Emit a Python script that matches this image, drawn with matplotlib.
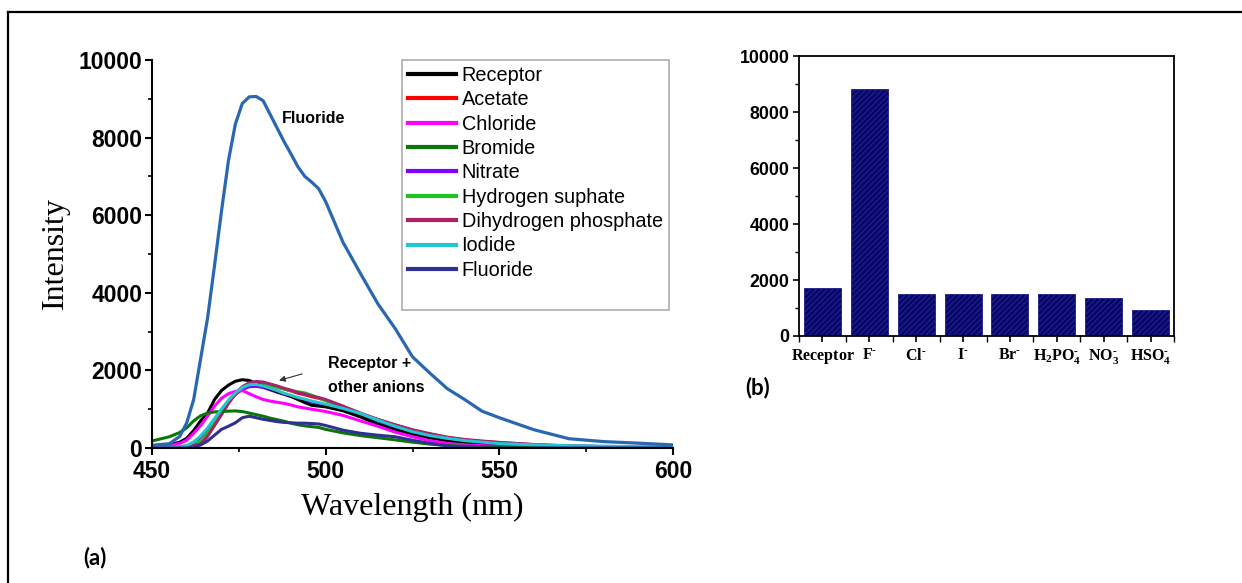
"""Fluorescence spectra of the receptor with anions (a) and peak intensity bars (b)."""
import matplotlib
matplotlib.use('Agg')
import matplotlib.pyplot as plt
from matplotlib.lines import Line2D
from matplotlib.ticker import MultipleLocator

# Times-like bold labels with real sub/superscripts
plt.rcParams['mathtext.fontset'] = 'custom'
plt.rcParams['mathtext.rm'] = 'Liberation Serif'
plt.rcParams['mathtext.bf'] = 'Liberation Serif:bold'

# ---- panel (a): emission spectra ----
wavelength = [450, 455, 458, 460, 462, 464, 466, 468, 470, 472, 474, 476, 478, 480,
              482, 484, 486, 488, 490, 492, 494, 496, 498, 500, 505, 510, 515, 520,
              525, 530, 535, 540, 545, 550, 560, 570, 580, 590, 600]

fluoride_big = [70, 110, 300, 650, 1250, 2300, 3350, 4700, 6100, 7400, 8350, 8880, 9050, 9060,
                8950, 8600, 8250, 7900, 7580, 7250, 7000, 6850, 6680, 6350, 5300, 4500, 3720, 3080,
                2350, 1930, 1530, 1250, 950, 780, 470, 240, 165, 125, 80]
receptor = [40, 80, 150, 250, 450, 700, 900, 1250, 1480, 1620, 1720, 1760, 1740, 1660,
            1600, 1520, 1450, 1400, 1330, 1250, 1170, 1100, 1080, 1060, 960, 800, 620, 470,
            360, 260, 180, 130, 90, 70, 50, 40, 35, 30, 30]
acetate = [0, 10, 20, 40, 80, 150, 330, 600, 880, 1160, 1390, 1560, 1660, 1690,
           1680, 1630, 1580, 1520, 1470, 1410, 1370, 1320, 1280, 1230, 1060, 890, 730, 590,
           460, 360, 270, 210, 170, 140, 85, 50, 30, 20, 15]
chloride = [30, 60, 120, 200, 380, 580, 820, 1080, 1280, 1400, 1460, 1480, 1400, 1320,
            1250, 1210, 1180, 1150, 1110, 1060, 1030, 1000, 970, 940, 840, 700, 560, 410,
            290, 190, 120, 80, 60, 45, 30, 20, 15, 10, 10]
bromide = [180, 290, 400, 520, 700, 830, 900, 930, 940, 950, 955, 940, 900, 860,
           820, 770, 730, 690, 640, 600, 570, 550, 530, 480, 390, 320, 265, 210,
           150, 100, 65, 45, 35, 30, 25, 20, 15, 15, 15]
nitrate = [0, 10, 20, 50, 130, 280, 480, 720, 960, 1190, 1380, 1510, 1580, 1590,
           1560, 1500, 1440, 1380, 1330, 1270, 1230, 1180, 1140, 1100, 990, 860, 700, 540,
           400, 300, 230, 170, 130, 100, 70, 50, 40, 35, 30]
hydrogen_sulphate = [0, 10, 30, 60, 100, 180, 380, 650, 930, 1200, 1420, 1560, 1640, 1660,
                     1640, 1600, 1560, 1520, 1480, 1450, 1420, 1360, 1290, 1220, 1050, 880, 720, 580,
                     440, 330, 240, 180, 140, 110, 70, 45, 30, 20, 15]
dihydrogen_phosphate = [0, 10, 20, 40, 70, 100, 300, 580, 860, 1150, 1400, 1580, 1680, 1715,
                        1700, 1650, 1600, 1540, 1490, 1430, 1390, 1340, 1300, 1250, 1080, 900, 740, 600,
                        470, 370, 280, 220, 180, 145, 90, 55, 35, 25, 20]
iodide = [0, 10, 25, 60, 160, 310, 520, 760, 1000, 1230, 1420, 1560, 1630, 1640,
          1600, 1540, 1480, 1410, 1360, 1300, 1260, 1210, 1170, 1130, 1020, 890, 720, 560,
          420, 320, 250, 190, 150, 115, 80, 60, 45, 40, 35]
fluoride_low = [0, 0, 0, 0, 10, 80, 180, 330, 480, 560, 650, 780, 820, 780,
                740, 710, 680, 660, 650, 640, 640, 630, 620, 580, 460, 380, 330, 290,
                200, 120, 55, 10, 0, 0, 0, 0, 0, 0, 0]

# ---- panel (b): intensity at emission maximum ----
HY = '\u2010'  # short hyphen used as the charge sign
bar_labels = [r'$\mathbf{Receptor}$', r'$\mathbf{F^{%s}}$' % HY, r'$\mathbf{Cl^{%s}}$' % HY,
              r'$\mathbf{I^{%s}}$' % HY, r'$\mathbf{Br^{%s}}$' % HY,
              r'$\mathbf{H_2PO_4^{%s}}$' % HY, r'$\mathbf{NO_3^{%s}}$' % HY,
              r'$\mathbf{HSO_4^{%s}}$' % HY]
bar_values = [1730, 8810, 1490, 1515, 1490, 1490, 1370, 945]

W, H = 1242, 583
fig = plt.figure(figsize=(W / 100, H / 100), dpi=100)

# outer frame of the composite figure
fig.add_artist(Line2D([8 / W, 8 / W], [0, 1 - 12 / H], color='black', lw=1.6,
                      transform=fig.transFigure))
fig.add_artist(Line2D([8 / W, 1], [1 - 12 / H, 1 - 12 / H], color='black', lw=1.6,
                      transform=fig.transFigure))

# ---------------- (a) ----------------
ax = fig.add_axes([152 / W, 1 - 448 / H, 521 / W, 388 / H])

series = [
    ('Nitrate', nitrate, '#7F00FF'),
    ('Acetate', acetate, '#FF0000'),
    ('Hydrogen suphate', hydrogen_sulphate, '#1DC423'),
    ('Receptor', receptor, '#000000'),
    ('Dihydrogen phosphate', dihydrogen_phosphate, '#A8226A'),
    ('Chloride', chloride, '#FF00FF'),
    ('Bromide', bromide, '#0A760A'),
    ('Iodide', iodide, '#22C5D0'),
    ('Fluoride', fluoride_low, '#2E3192'),
]
lines = {}
for name, vals, col in series:
    lines[name], = ax.plot(wavelength, vals, color=col, lw=2.2, label=name)
ax.plot(wavelength, fluoride_big, color='#2A67B1', lw=2.3)

legend_order = ['Receptor', 'Acetate', 'Chloride', 'Bromide', 'Nitrate', 'Hydrogen suphate',
                'Dihydrogen phosphate', 'Iodide', 'Fluoride']
handles = [lines[n] for n in legend_order] + [Line2D([], [], color='none')]
labels = legend_order + [' ']
leg = ax.legend(handles, labels, loc='upper left', bbox_to_anchor=(402 / W, 1 - 60 / H),
                bbox_transform=fig.transFigure, borderaxespad=0, fancybox=False,
                prop={'family': 'Liberation Sans', 'size': 14.3}, handlelength=2.4,
                handletextpad=0.3, labelspacing=0.27, borderpad=0.3)
leg.get_frame().set_edgecolor('#a0a0a0')
leg.get_frame().set_linewidth(1.3)
for lh in leg.get_lines():
    lh.set_linewidth(3)

ax.set_xlim(450, 600)
ax.set_ylim(0, 10000)
ax.xaxis.set_major_locator(MultipleLocator(50))
ax.xaxis.set_minor_locator(MultipleLocator(25))
ax.yaxis.set_major_locator(MultipleLocator(2000))
ax.yaxis.set_minor_locator(MultipleLocator(1000))
for s in ['top', 'right']:
    ax.spines[s].set_visible(False)
for s in ['left', 'bottom']:
    ax.spines[s].set_linewidth(1.5)
ax.tick_params(which='major', direction='out', length=5, width=1.5, pad=2)
ax.tick_params(which='minor', direction='out', length=3, width=1.2)
ax.tick_params(axis='x', pad=4)
for lab in ax.get_xticklabels() + ax.get_yticklabels():
    lab.set_fontfamily('Liberation Sans')
    lab.set_fontweight('bold')
    lab.set_fontsize(16.5)

ax.set_xlabel('Wavelength (nm)', fontfamily='Liberation Serif', fontsize=23, va='center')
ax.xaxis.set_label_coords(0.5, (448 - 507) / 388)
ax.set_ylabel('Intensity', fontfamily='Liberation Serif', fontsize=23, va='center')
ax.yaxis.set_label_coords((55 - 152) / 521, (448 - 253) / 388)

ax.text(487.4, 8500, 'Fluoride', fontfamily='Liberation Sans', fontweight='bold',
        fontsize=11.5, va='center', ha='left')
ax.text(500.7, 1870, 'Receptor +\nother anions', fontfamily='Liberation Sans',
        fontweight='bold', fontsize=11.5, va='center', ha='left', linespacing=1.7)
ax.annotate('', xy=(485.8, 1720), xytext=(494.0, 1930),
            arrowprops=dict(arrowstyle='-|>', color='#333333', lw=0.8, mutation_scale=9))

fig.text(95 / W, 1 - 558 / H, '(a)', fontfamily='Lato', fontweight='bold', fontsize=16,
         ha='center', va='center')

# ---------------- (b) ----------------
bx = fig.add_axes([799 / W, 1 - 336 / H, 375 / W, 280 / H])
positions = list(range(len(bar_values)))
bx.bar(positions, bar_values, width=0.79, color='#06066A', edgecolor='#1E1E86',
       linewidth=0.6, hatch='//////')
bx.set_xlim(-0.5, 7.5)
bx.set_ylim(0, 10000)
bx.set_xticks(positions)
bx.set_xticklabels(bar_labels, fontsize=11.5)
bx.xaxis.set_minor_locator(MultipleLocator(0.5))
bx.yaxis.set_major_locator(MultipleLocator(2000))
bx.yaxis.set_minor_locator(MultipleLocator(1000))
for s in bx.spines.values():
    s.set_linewidth(1.3)
bx.tick_params(which='major', direction='out', length=4, width=1.2, pad=3)
bx.tick_params(which='minor', direction='out', length=3, width=1.0)
bx.tick_params(axis='x', which='minor', length=4)
bx.tick_params(axis='x', pad=4)
for lab in bx.get_yticklabels():
    lab.set_fontfamily('Liberation Sans')
    lab.set_fontweight('bold')
    lab.set_fontsize(12.8)

fig.text(758 / W, 1 - 388 / H, '(b)', fontfamily='Lato', fontweight='bold', fontsize=16,
         ha='center', va='center')

fig.savefig('out.png', dpi=100)
